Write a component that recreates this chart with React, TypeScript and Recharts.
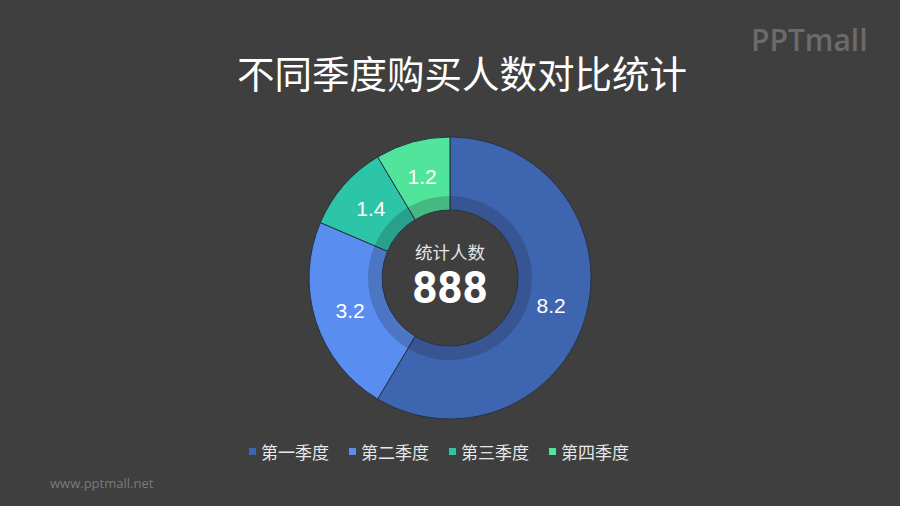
import React from "react";
import { PieChart, Pie, Cell, Legend } from "recharts";

const categories = ["第一季度", "第二季度", "第三季度", "第四季度"];
const values = [8.2, 3.2, 1.4, 1.2];
const colors = ["#3E65B0", "#5A8DF0", "#2DC5A7", "#50E59A"];
const titleText = "不同季度购买人数对比统计";
const centerLabel = "统计人数";
const centerValue = "888";

const data = categories.map((name, i) => ({ name, value: values[i] }));

const FONT = '"Noto Sans CJK SC", "Noto Sans", sans-serif';
const RAD = Math.PI / 180;

const renderLabel = (props: any) => {
  const { cx, cy, midAngle, value } = props;
  const r = 105;
  const x = cx + r * Math.cos(-midAngle * RAD);
  const y = cy + r * Math.sin(-midAngle * RAD);
  return (
    <text
      x={x}
      y={y}
      fill="#ffffff"
      textAnchor="middle"
      dominantBaseline="central"
      fontSize={21}
      fontFamily="Arial, 'Liberation Sans', sans-serif"
    >
      {value}
    </text>
  );
};

const renderLegend = () => {
  return (
    <div
      style={{
        display: "flex",
        justifyContent: "flex-start",
        gap: 20,
        fontFamily: FONT,
        fontSize: 17,
        color: "#e8e8e8",
        paddingLeft: 249,
      }}
    >
      {categories.map((name, i) => (
        <div key={name} style={{ display: "flex", alignItems: "center" }}>
          <span
            style={{
              display: "inline-block",
              width: 7,
              height: 7,
              background: colors[i],
              marginRight: 5,
            }}
          />
          <span>{name}</span>
        </div>
      ))}
    </div>
  );
};

export default function App() {
  return (
    <div
      style={{
        position: "absolute",
        left: 0,
        top: 0,
        width: 900,
        height: 506,
        background: "#3F3F3F",
        overflow: "hidden",
      }}
    >
      <PieChart
        width={900}
        height={506}
        margin={{ top: 0, left: 0, right: 0, bottom: 0 }}
      >
        <Pie
          data={data}
          dataKey="value"
          nameKey="name"
          cx={450}
          cy={278}
          innerRadius={68}
          outerRadius={141}
          startAngle={90}
          endAngle={-270}
          stroke="#263240"
          strokeWidth={1}
          label={renderLabel}
          labelLine={false}
          isAnimationActive={false}
        >
          {data.map((d, i) => (
            <Cell key={d.name} fill={colors[i]} />
          ))}
        </Pie>
        <Pie
          data={data}
          dataKey="value"
          nameKey="name"
          cx={450}
          cy={278}
          innerRadius={68.5}
          outerRadius={82}
          startAngle={90}
          endAngle={-270}
          stroke="none"
          isAnimationActive={false}
          legendType="none"
        >
          {data.map((d, i) => (
            <Cell key={d.name} fill="#1a1f2a" fillOpacity={0.22} />
          ))}
        </Pie>
        <Legend
          verticalAlign="bottom"
          align="center"
          wrapperStyle={{ top: 439, bottom: "auto", left: 0, width: 900 }}
          content={renderLegend}
        />
      </PieChart>
      <div
        style={{
          position: "absolute",
          left: 12,
          width: 900,
          top: 49,
          textAlign: "center",
          fontFamily: FONT,
          fontSize: 37.5,
          color: "#ffffff",
          lineHeight: "46px",
        }}
      >
        {titleText}
      </div>
      <div
        style={{
          position: "absolute",
          left: 0,
          width: 900,
          top: 242,
          textAlign: "center",
          fontFamily: FONT,
          fontSize: 17.5,
          color: "#e6e6e6",
          lineHeight: "20px",
        }}
      >
        {centerLabel}
      </div>
      <div
        style={{
          position: "absolute",
          left: 0,
          width: 900,
          top: 269,
          textAlign: "center",
          fontFamily: "Roboto, Arial, sans-serif",
          fontWeight: 700,
          fontSize: 44,
          color: "#ffffff",
          lineHeight: "38px",
        }}
      >
        {centerValue}
      </div>
      <div
        style={{
          position: "absolute",
          left: 751,
          top: 19,
          fontFamily: "'Open Sans', Lato, sans-serif",
          fontSize: 30,
          fontWeight: 600,
          color: "#6b6b6b",
        }}
      >
        PPTmall
      </div>
      <div
        style={{
          position: "absolute",
          left: 50,
          top: 474,
          fontFamily: "'Open Sans', sans-serif",
          fontSize: 13,
          color: "#7a7a7a",
        }}
      >
        www.pptmall.net
      </div>
    </div>
  );
}
